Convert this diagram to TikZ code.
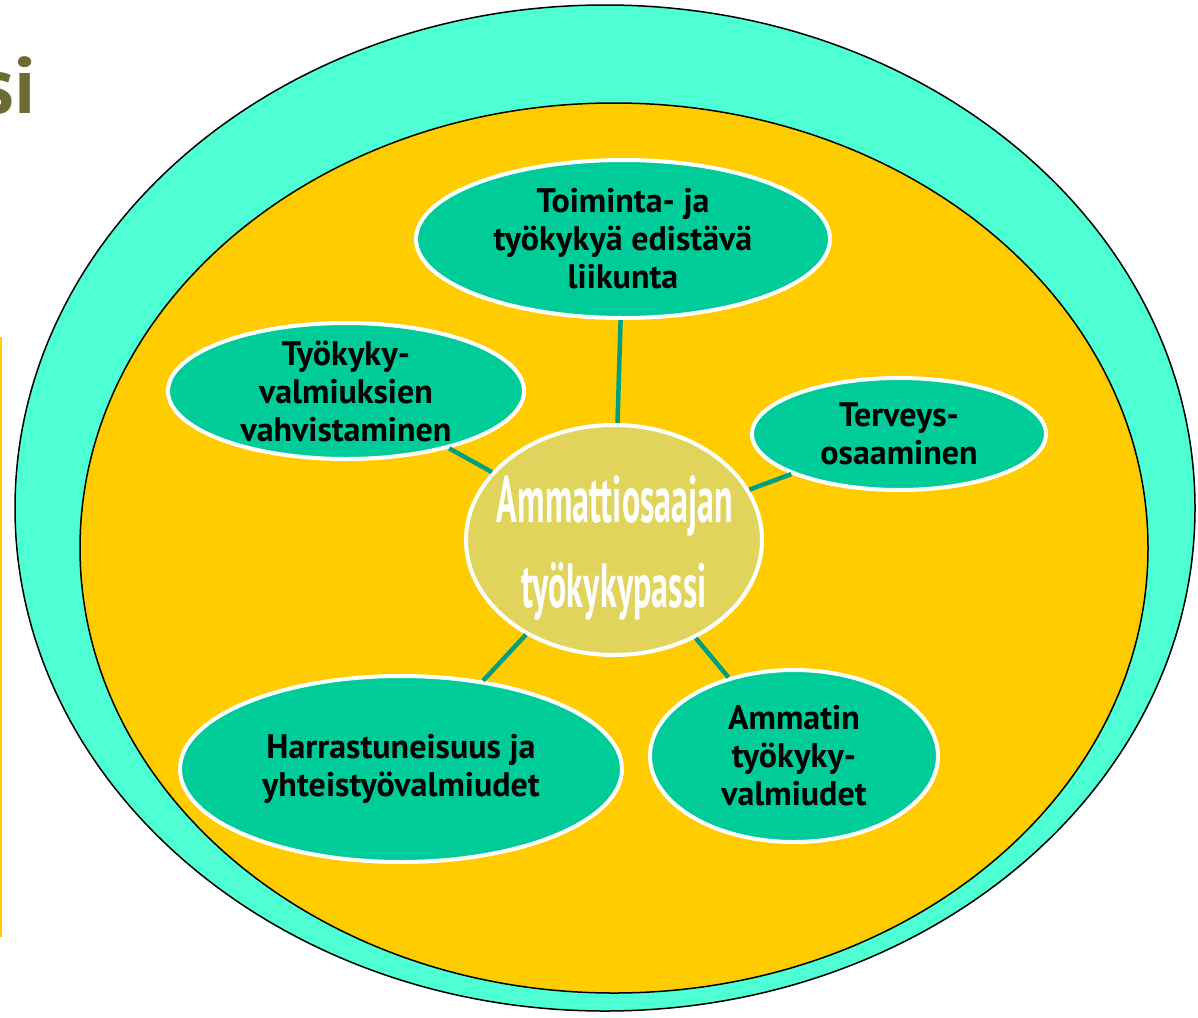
\documentclass[tikz,border=0pt]{standalone}
\usepackage{fontspec}
\setmainfont{PT Sans}
\usetikzlibrary{shapes.geometric}
\definecolor{aqua}{HTML}{4DFFD2}
\definecolor{gold}{HTML}{FFCC00}
\definecolor{topicfill}{HTML}{00CC99}
\definecolor{khaki}{HTML}{E0D45C}
\definecolor{linkc}{HTML}{009E82}
\definecolor{olive}{HTML}{6B6B33}
\begin{document}
\begin{tikzpicture}[x=1pt,y=-1pt,
  ring/.style={ellipse, draw=black, line width=1.5pt, inner sep=0pt},
  topic/.style={ellipse, fill=topicfill, draw=white, line width=4pt, inner sep=0pt},
  hub/.style={ellipse, fill=khaki, draw=white, line width=4pt, inner sep=0pt},
  topictext/.style={align=center, inner sep=0pt, text=black,
    font=\fontsize{34}{38}\selectfont\bfseries},
  hubtext/.style={anchor=base, inner sep=0pt, text=white, font=\bfseries},
  link/.style={draw=linkc, line width=4.5pt}]
\useasboundingbox (0,0) rectangle (1198,1017);
\clip (0,0) rectangle (1198,1017);

% title fragment and side line
\node[anchor=base east, inner sep=0pt, text=olive, font=\fontsize{80}{82}\selectfont\bfseries] (title) at (36,113) {si};
\draw[gold, line width=2pt] (1,337) -- (1,937);

% background rings
\node[ring, fill=aqua, minimum width=1180pt, minimum height=1006pt] (outer) at (605,508) {};
\node[ring, fill=gold, minimum width=1068pt, minimum height=890pt] (inner) at (614,548) {};

% hub
\node[hub, minimum width=296pt, minimum height=230pt] (c) at (614,540) {};

% topics
\node[topic, minimum width=414pt, minimum height=158pt] (n1) at (623,239) {};
\node[topic, minimum width=356pt, minimum height=136pt] (n2) at (346,391) {};
\node[topic, minimum width=294pt, minimum height=112pt] (n3) at (899,434) {};
\node[topic, minimum width=442pt, minimum height=186pt] (n5) at (401,769) {};
\node[topic, minimum width=288pt, minimum height=172pt] (n6) at (794,756) {};

% connectors
\path[link] (c) -- (n1);
\path[link] (c) -- (n2);
\path[link] (c) -- (n3);
\path[link] (c) -- (n5);
\path[link] (c) -- (n6);

% texts
\node[topictext] (t1) at (n1) {Toiminta- ja\\työkykyä edistävä\\liikunta};
\node[topictext] (t2) at (n2) {Työkyky-\\valmiuksien\\vahvistaminen};
\node[topictext] (t3) at (n3) {Terveys-\\osaaminen};
\node[topictext] (t5) at (n5) {Harrastuneisuus ja\\yhteistyövalmiudet};
\node[topictext] (t6) at (n6) {Ammatin\\työkyky-\\valmiudet};

\node[hubtext] (h1) at (615,522) {\resizebox{236pt}{47pt}{Ammattiosaajan}};
\node[hubtext] (h2) at (614,607) {\resizebox{185pt}{45pt}{työkykypassi}};
\end{tikzpicture}
\end{document}
